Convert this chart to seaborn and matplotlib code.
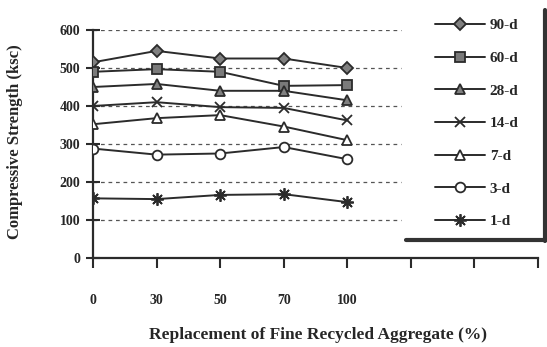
import matplotlib
matplotlib.use("Agg")
import matplotlib.pyplot as plt
from matplotlib.lines import Line2D
import seaborn as sns
import pandas as pd

categories = ["0", "30", "50", "70", "100"]
series_names = ["90-d", "60-d", "28-d", "14-d", "7-d", "3-d", "1-d"]
s90 = [515, 545, 525, 525, 500]
s60 = [490, 497, 490, 453, 455]
s28 = [450, 458, 440, 440, 415]
s14 = [400, 410, 397, 395, 362]
s7 = [352, 368, 376, 346, 310]
s3 = [288, 272, 275, 292, 260]
s1 = [157, 155, 166, 168, 147]
yticks = [0, 100, 200, 300, 400, 500, 600]

values = [s90, s60, s28, s14, s7, s3, s1]

sns.set_theme(style="white")
plt.rcParams["font.family"] = ["Liberation Serif", "DejaVu Serif"]
plt.rcParams["font.weight"] = "bold"

W, H = 547, 347
fig = plt.figure(figsize=(W / 100, H / 100), dpi=100)
ax = fig.add_axes([93 / W, 1 - 258 / H, 445 / W, 228 / H])

line_col = "#2b2b2b"
markers = {"90-d": "D", "60-d": "s", "28-d": "^", "14-d": "x",
           "7-d": "^", "3-d": "o", "1-d": (8, 2, 0)}
fills = {"90-d": "#808080", "60-d": "#7a7a7a", "28-d": "#808080", "14-d": line_col,
         "7-d": "white", "3-d": "white", "1-d": line_col}
sizes = {"90-d": 6, "60-d": 7, "28-d": 7, "14-d": 7, "7-d": 7, "3-d": 7, "1-d": 9}

for name, vals in zip(series_names, values):
    d = pd.DataFrame({"pos": list(range(len(categories))), "val": vals})
    sns.lineplot(data=d, x="pos", y="val", ax=ax, color=line_col, linewidth=1.4,
                 marker=markers[name], markersize=sizes[name], markerfacecolor=fills[name],
                 markeredgecolor=line_col, markeredgewidth=1.3, label=name, zorder=3)

handles, labels = ax.get_legend_handles_labels()
if ax.get_legend() is not None:
    ax.get_legend().remove()
leg = fig.legend(handles, labels, loc="upper left", bbox_to_anchor=(427 / W, 1 - 11 / H),
                 frameon=False, handlelength=3.3, labelspacing=1.24, borderpad=0,
                 handletextpad=0.3,
                 prop={"family": "Liberation Serif", "weight": "bold", "size": 11})

# legend box shadow edges (right and bottom)
fig.add_artist(Line2D([545 / W, 545 / W], [1 - 10 / H, 1 - 241 / H], color="#333333",
                      linewidth=3, transform=fig.transFigure))
fig.add_artist(Line2D([406 / W, 546 / W], [1 - 240 / H, 1 - 240 / H], color="#333333",
                      linewidth=3, transform=fig.transFigure))

ax.set_xlim(0, 7)
ax.set_ylim(0, 600)
ax.set_xticks(range(8))
ax.set_xticklabels(categories + [""] * 3)
ax.set_yticks(yticks)
ax.set_yticklabels([str(t) for t in yticks])
for t in yticks[1:]:
    ax.plot([0, 4.85], [t, t], linestyle=(0, (3, 3)), color="#555555", linewidth=0.9, zorder=0)

for s in ["top", "right"]:
    ax.spines[s].set_visible(False)
for s in ["left", "bottom"]:
    ax.spines[s].set_color(line_col)
    ax.spines[s].set_linewidth(1.6)
ax.tick_params(axis="y", direction="inout", length=10, width=1.5, color=line_col,
               labelsize=10, pad=4, left=True)
ax.tick_params(axis="x", direction="out", length=7, width=1.5, color=line_col,
               labelsize=10, pad=19, bottom=True)
for lab in ax.get_xticklabels() + ax.get_yticklabels():
    lab.set_fontweight("bold")

ax.set_xlabel("Replacement of Fine Recycled Aggregate (%)", fontsize=12.5, fontweight="bold")
ax.set_ylabel("Compressive Strength (ksc)", fontsize=12, fontweight="bold")
ax.xaxis.label.set_va("center")
ax.xaxis.set_label_coords((318 - 93) / 445, -(335 - 258) / 228)
ax.yaxis.label.set_va("center")
ax.yaxis.set_label_coords(-(93 - 15) / 445, (258 - 142) / 228)

fig.savefig("out.png", dpi=100)
